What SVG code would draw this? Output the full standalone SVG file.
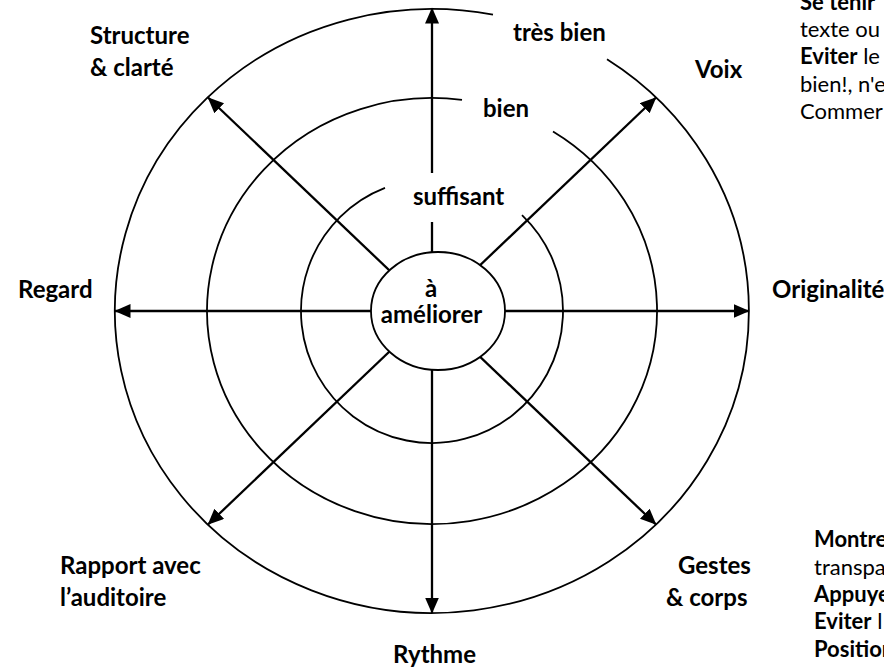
<svg xmlns="http://www.w3.org/2000/svg" width="884" height="669" viewBox="0 0 884 669">
<style>
.ring{fill:none;stroke:#000;stroke-width:1.8}
.ax{fill:none;stroke:#000;stroke-width:2.3}
.lb{font-family:Lato,"Liberation Sans",sans-serif;font-weight:bold;font-size:24px;fill:#000}
.tx{font-family:Lato,"Liberation Sans",sans-serif;font-size:22px;fill:#000}
.b{font-weight:bold}
</style>
<defs>
<marker id="ah" markerUnits="userSpaceOnUse" markerWidth="17" markerHeight="15" refX="15.5" refY="7" orient="auto">
<path d="M0,0 L16,7 L0,14 z" fill="#000"/>
</marker>
</defs>
<rect width="884" height="669" fill="#fff"/>
<g id="rings">
<path id="ring-outer" class="ring" d="M493,14.6 A317,302 0 1 0 607,59.2"/>
<path id="ring-middle" class="ring" d="M462,99.9 A225,213 0 1 0 553,131.4"/>
<path id="ring-inner" class="ring" d="M385,187.8 A131,132 0 1 0 522,215.1"/>
</g>
<g id="connectors">
<line class="ax" x1="432" y1="173" x2="432" y2="8" marker-end="url(#ah)"/>
<line class="ax" x1="432" y1="222" x2="432" y2="260"/>
<line class="ax" x1="432" y1="311" x2="432" y2="613" marker-end="url(#ah)"/>
<line class="ax" x1="432" y1="311" x2="115" y2="311" marker-end="url(#ah)"/>
<line class="ax" x1="432" y1="311" x2="749" y2="311" marker-end="url(#ah)"/>
<line class="ax" x1="432" y1="311" x2="208" y2="97.5" marker-end="url(#ah)"/>
<line class="ax" x1="432" y1="311" x2="656" y2="97.5" marker-end="url(#ah)"/>
<line class="ax" x1="432" y1="311" x2="208" y2="524.5" marker-end="url(#ah)"/>
<line class="ax" x1="432" y1="311" x2="656" y2="524.5" marker-end="url(#ah)"/>
</g>
<g id="center">
<ellipse cx="438" cy="311" rx="67" ry="59" fill="#fff" stroke="#000" stroke-width="1.8"/>
<text class="lb" x="431" y="297" text-anchor="middle">à</text>
<text class="lb" x="431.5" y="323" text-anchor="middle">améliorer</text>
</g>
<g id="level-labels">
<text class="lb" x="513" y="41">très bien</text>
<text class="lb" x="483" y="117">bien</text>
<text class="lb" x="413" y="205">suffisant</text>
</g>
<g id="structure"><text class="lb" x="90" y="44">Structure</text><text class="lb" x="90" y="76">&amp; clarté</text></g>
<g id="voix"><text class="lb" x="695" y="78">Voix</text></g>
<g id="regard"><text class="lb" x="18" y="298">Regard</text></g>
<g id="originalite"><text class="lb" x="772" y="298">Originalité</text></g>
<g id="rapport"><text class="lb" x="60" y="574">Rapport avec</text><text class="lb" x="60" y="606">l’auditoire</text></g>
<g id="gestes"><text class="lb" x="678" y="574">Gestes</text><text class="lb" x="666" y="606">&amp; corps</text></g>
<g id="rythme"><text class="lb" x="393" y="663">Rythme</text></g>
<g id="note-top">
<text class="tx b" x="800" y="10">Se tenir</text>
<text class="tx" x="800" y="37">texte ou</text>
<text class="tx" x="800" y="64"><tspan class="b">Eviter</tspan>  le</text>
<text class="tx" x="800" y="92">bien!, n'e</text>
<text class="tx" x="800" y="119">Commer</text>
</g>
<g id="note-bottom">
<text class="tx b" x="814" y="547">Montre</text>
<text class="tx" x="814" y="575">transpa</text>
<text class="tx b" x="814" y="602">Appuye</text>
<text class="tx" x="814" y="629"><tspan class="b">Eviter</tspan> l</text>
<text class="tx b" x="814" y="657">Position</text>
</g>
</svg>
